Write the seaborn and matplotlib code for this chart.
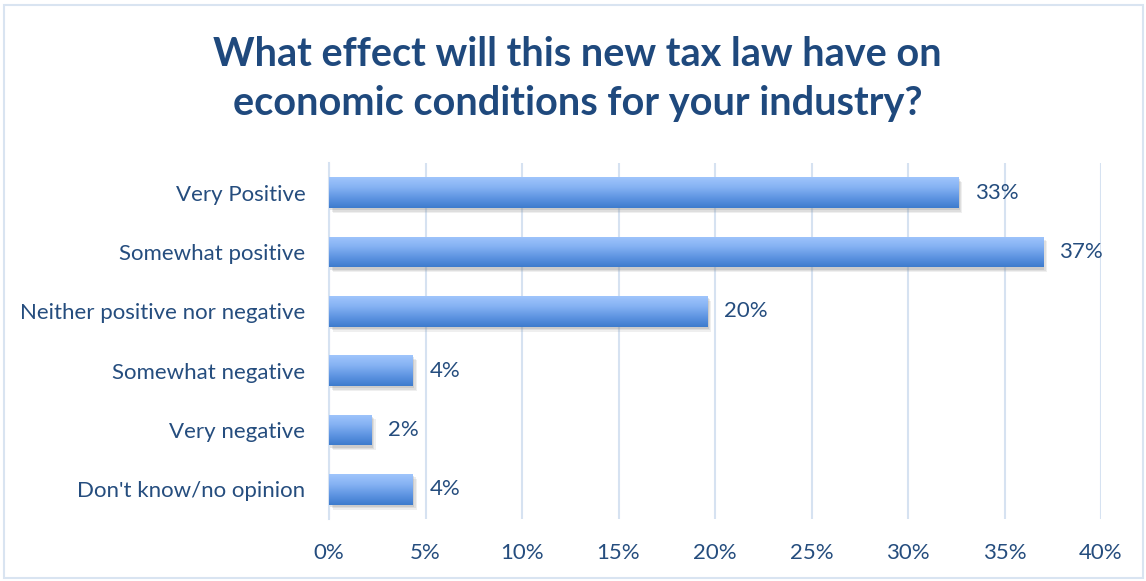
import numpy as np
import pandas as pd
import matplotlib
matplotlib.use("Agg")
import matplotlib.pyplot as plt
import matplotlib.patheffects as pe
from matplotlib.colors import LinearSegmentedColormap
from matplotlib.patches import Rectangle
import seaborn as sns

# Survey responses
categories = [
    "Very Positive",
    "Somewhat positive",
    "Neither positive nor negative",
    "Somewhat negative",
    "Very negative",
    "Don't know/no opinion",
]
shares = [32.6, 37.0, 19.6, 4.35, 2.2, 4.35]
x_ticks = [0, 5, 10, 15, 20, 25, 30, 35, 40]
title = "What effect will this new tax law have on\neconomic conditions for your industry?"

sns.set_theme(style="white")
plt.rcParams["font.family"] = ["Lato", "DejaVu Sans"]

text_color = "#254D7E"
title_color = "#1F497D"
grid_color = "#D6E2F1"

df = pd.DataFrame({"category": categories, "share": shares})

fig = plt.figure(figsize=(11.46, 5.81), dpi=100)
ax = fig.add_axes([329 / 1146, 1 - 519 / 581, (1101 - 329) / 1146, (519 - 163) / 581])

sns.barplot(data=df, y="category", x="share", orient="h", ax=ax,
            color="#3E7DCF", width=0.52, saturation=1, zorder=3)

# Vertical gradient fill with a soft drop shadow on every bar
grad_cmap = LinearSegmentedColormap.from_list(
    "bar_grad", ["#A0C5FC", "#85B2F3", "#5F95E2", "#3D7BCD"])
grad = np.linspace(0, 1, 256).reshape(-1, 1)
for patch in ax.patches:
    x0, y0 = patch.get_x(), patch.get_y()
    w, h = patch.get_width(), patch.get_height()
    patch.set_edgecolor("none")
    patch.set_path_effects([
        pe.SimplePatchShadow(offset=(3, -3.5), shadow_rgbFace="#808080", alpha=0.12),
        pe.SimplePatchShadow(offset=(2, -2.5), shadow_rgbFace="#808080", alpha=0.15),
        pe.SimplePatchShadow(offset=(1, -1.5), shadow_rgbFace="#808080", alpha=0.2),
        pe.Normal(),
    ])
    im = ax.imshow(grad, cmap=grad_cmap, aspect="auto", origin="upper",
                   extent=(x0, x0 + w, y0 + h, y0), zorder=4, interpolation="bilinear")
    im.set_clip_path(patch)

ax.set_xlim(0, 40)
ax.set_ylim(5.5, -0.5)

# Value labels
for i, v in enumerate(shares):
    ax.text(v + 0.85, i, f"{v:.0f}%", va="center", ha="left",
            fontsize=16, color=text_color, zorder=5)

ax.set_xticks(x_ticks)
ax.set_xticklabels([f"{t}%" for t in x_ticks])
ax.tick_params(axis="x", length=0, pad=17, labelsize=16, labelcolor=text_color)
ax.tick_params(axis="y", length=0, pad=17, labelsize=16, labelcolor=text_color)
ax.set_xlabel("")
ax.set_ylabel("")

ax.xaxis.grid(True, color=grid_color, linewidth=1.5, zorder=0)
ax.set_axisbelow(True)
for s in ["top", "right", "bottom"]:
    ax.spines[s].set_visible(False)
ax.spines["left"].set_color(grid_color)
ax.spines["left"].set_linewidth(1.5)

fig.text(0.504, 1 - 79 / 581, title, ha="center", va="center",
         fontsize=28.5, fontweight="bold", color=title_color, linespacing=1.42)

# Chart border
fig.patches.append(Rectangle((4 / 1146, 3 / 581), 1139 / 1146, 573 / 581,
                             transform=fig.transFigure, fill=False,
                             edgecolor="#D9E4F1", linewidth=1.5))

fig.savefig("out.png", dpi=100, facecolor="white")
